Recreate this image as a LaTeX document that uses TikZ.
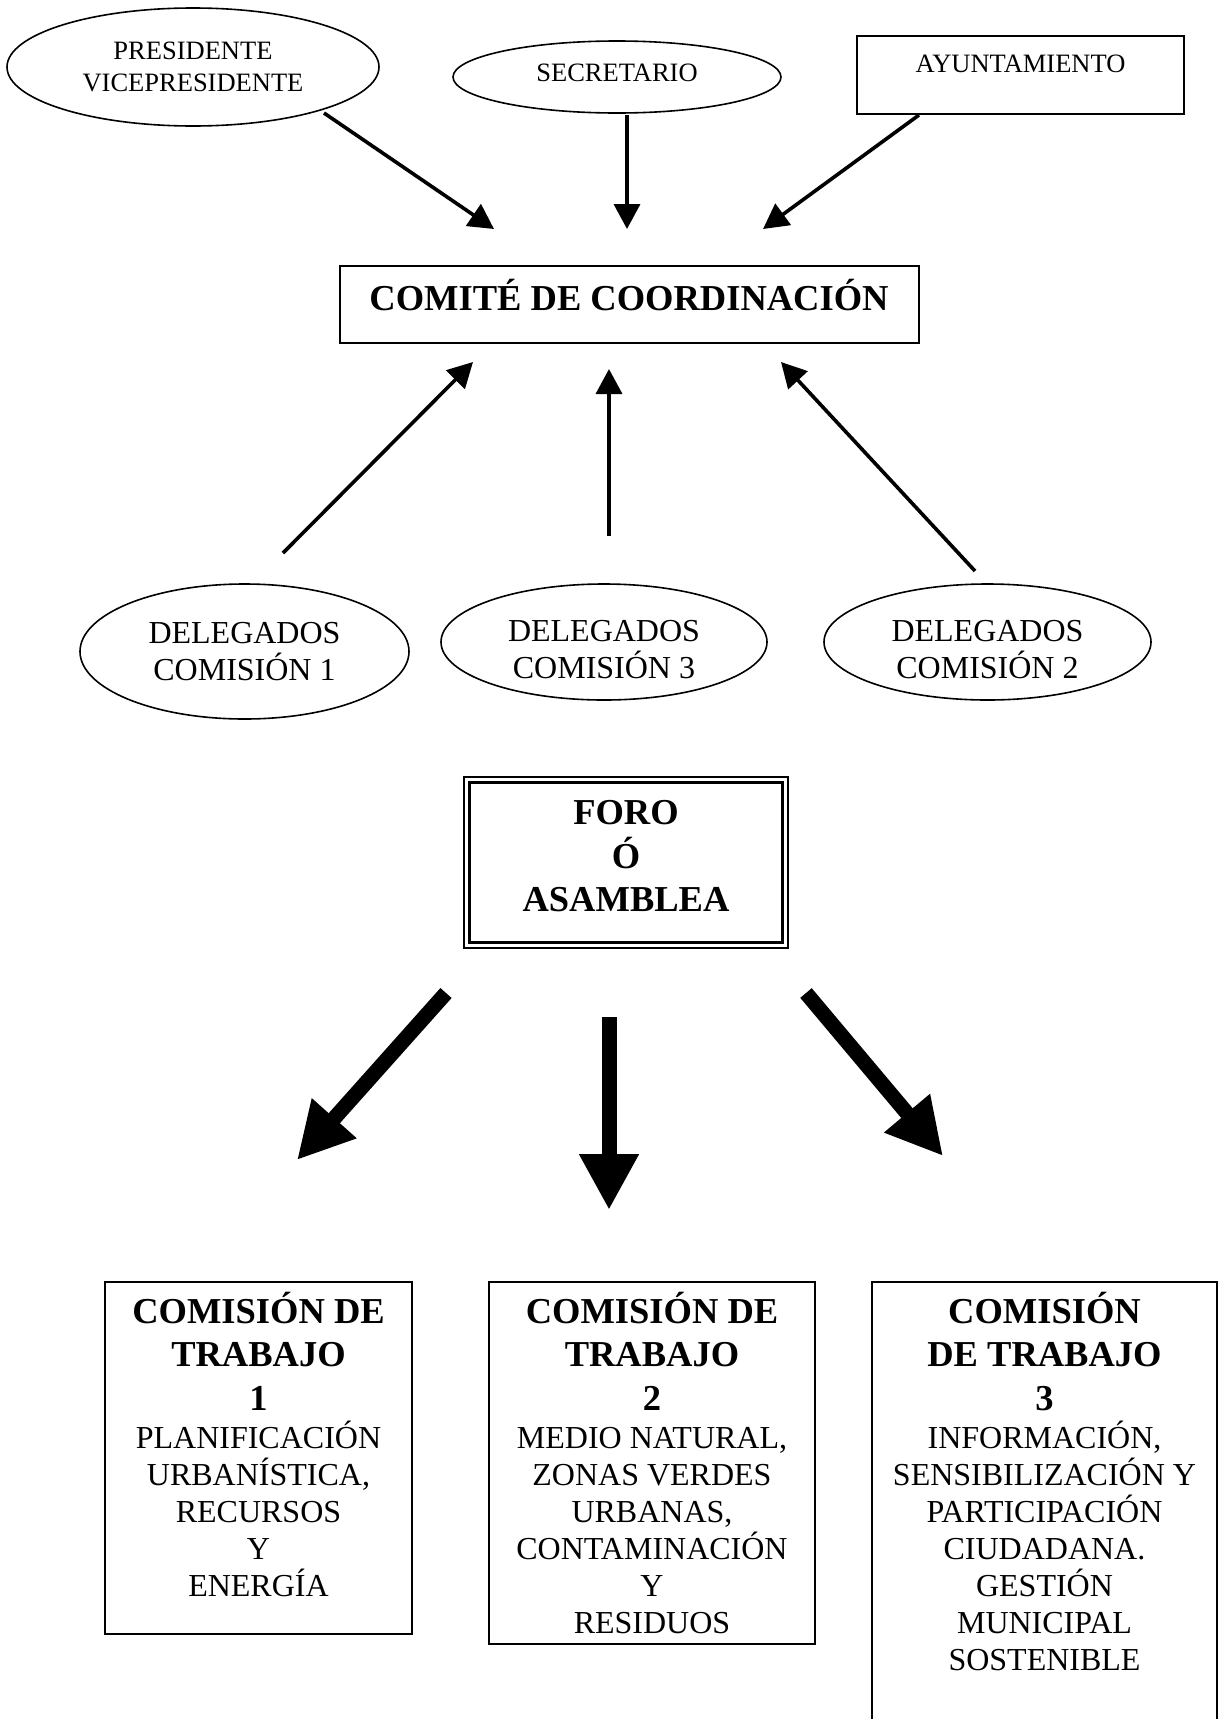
\documentclass[tikz,border=0pt]{standalone}
\usepackage{fontspec}
\setmainfont{Liberation Serif}
\usetikzlibrary{shapes.geometric,arrows.meta}

% tamaños de letra
\newcommand{\chica}{\fontsize{13.25pt}{16pt}\selectfont}
\newcommand{\cuerpo}{\fontsize{16pt}{18.5pt}\selectfont}
\newcommand{\titulo}{\fontsize{18.25pt}{21.75pt}\selectfont\bfseries}
% baja la caja del texto
\newcommand{\bajo}[1]{\rule[-#1]{0pt}{#1}}

\begin{document}
\begin{tikzpicture}[x=0.5pt, y=-0.5pt,
    ovalo/.style={draw, ellipse, line width=0.8pt, inner sep=0pt, align=center},
    caja/.style={draw, rectangle, line width=1pt, inner sep=0pt, align=center},
    comision/.style={draw, rectangle, line width=1pt, anchor=north, inner xsep=0pt,
        inner ysep=5pt, align=center, font=\cuerpo},
    flecha/.style={line width=1.8pt, -{Triangle[length=12.5pt, width=13pt]}},
    flechagorda/.style={line width=7.5pt, -{Triangle[length=28pt, width=28pt]}}]

    % Margenes de la hoja
    \useasboundingbox (0,0) rectangle (1218,1719);

    % Fila superior
    \node[ovalo, minimum width=186pt, minimum height=59pt, font=\chica] (pres) at (193,67)
        {PRESIDENTE\\VICEPRESIDENTE};
    \node[ovalo, minimum width=164pt, minimum height=36pt, font=\chica] (secr) at (617,77)
        {SECRETARIO\bajo{4.5pt}};
    \node[caja, minimum width=163.5pt, minimum height=39pt, font=\chica] (ayto) at (1020.5,75)
        {AYUNTAMIENTO\bajo{11pt}};

    % Comite
    \node[caja, minimum width=289.5pt, minimum height=38.5pt, font=\titulo] (comite) at (629,304.5)
        {COMITÉ DE COORDINACIÓN\bajo{10pt}};

    % Delegados de las comisiones
    \node[ovalo, minimum width=164.5pt, minimum height=67.5pt, font=\cuerpo] (del1) at (244.5,651.5)
        {DELEGADOS\\COMISIÓN 1};
    \node[ovalo, minimum width=163pt, minimum height=58pt, font=\cuerpo] (del3) at (604,642)
        {\rule{0pt}{18pt}DELEGADOS\\COMISIÓN 3};
    \node[ovalo, minimum width=163.5pt, minimum height=58pt, font=\cuerpo] (del2) at (987.5,642)
        {\rule{0pt}{18pt}DELEGADOS\\COMISIÓN 2};

    % Foro con doble borde
    \node[caja, line width=1.2pt, double, double distance=1.4pt, minimum width=159.2pt,
        minimum height=82.7pt, font=\titulo] (foro) at (626,862.5)
        {FORO\\Ó\\ASAMBLEA\bajo{6.5pt}};

    % Comisiones de trabajo
    \node[comision, minimum width=153.5pt] (com1) at (258.5,1281)
        {\titulo COMISIÓN DE\\[3.25pt]\titulo TRABAJO\\[3.25pt]\titulo 1\\[0.5pt]
         PLANIFICACIÓN\\URBANÍSTICA,\\RECURSOS\\Y\\ENERGÍA\bajo{14pt}};
    \node[comision, minimum width=163pt] (com2) at (652,1281)
        {\titulo COMISIÓN DE\\[3.25pt]\titulo TRABAJO\\[3.25pt]\titulo 2\\[0.5pt]
         MEDIO NATURAL,\\ZONAS VERDES\\URBANAS,\\CONTAMINACIÓN\\Y\\RESIDUOS};
    \node[comision, minimum width=172.5pt] (com3) at (1044.5,1281)
        {\titulo COMISIÓN\\[3.25pt]\titulo DE TRABAJO\\[3.25pt]\titulo 3\\[0.5pt]
         INFORMACIÓN,\\SENSIBILIZACIÓN Y\\PARTICIPACIÓN\\CIUDADANA.\\GESTIÓN\\MUNICIPAL\\
         SOSTENIBLE\bajo{39pt}};

    % Extremos de las flechas hacia el comite
    \coordinate (a1) at (324,113);
    \coordinate (b1) at (494,229);
    \coordinate (a2) at (627,115);
    \coordinate (b2) at (627,229);
    \coordinate (a3) at (919,115);
    \coordinate (b3) at (763,229);

    \coordinate (c1) at (283,553);
    \coordinate (d1) at (473,362);
    \coordinate (c2) at (609,536);
    \coordinate (d2) at (609,369);
    \coordinate (c3) at (975,571);
    \coordinate (d3) at (781,362);

    \draw[flecha] (a1) -- (b1);
    \draw[flecha] (a2) -- (b2);
    \draw[flecha] (a3) -- (b3);
    \draw[flecha] (c1) -- (d1);
    \draw[flecha] (c2) -- (d2);
    \draw[flecha] (c3) -- (d3);

    % Flechas gruesas del foro
    \coordinate (e1) at (446,993);
    \coordinate (f1) at (297,1160);
    \coordinate (e2) at (609,1017);
    \coordinate (f2) at (609,1210);
    \coordinate (e3) at (806,993);
    \coordinate (f3) at (943,1156);

    \draw[flechagorda] (e1) -- (f1);
    \draw[flechagorda] (e2) -- (f2);
    \draw[flechagorda] (e3) -- (f3);

\end{tikzpicture}
\end{document}
